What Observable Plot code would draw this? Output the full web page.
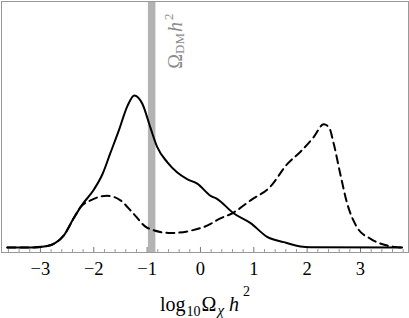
<!DOCTYPE html>
<html><head><meta charset="utf-8">
<script src="https://cdn.jsdelivr.net/npm/d3@7"></script>
<script src="https://cdn.jsdelivr.net/npm/@observablehq/plot@0.6"></script>
<style>body{margin:0;background:#fff;overflow:hidden}
svg text{font-family:"Liberation Serif","Times New Roman",serif !important;}</style>
</head><body><div id="chart"></div>
<script>
// Solid curve (relative density vs log10 Omega h^2)
const solidX = [-3.62,-3.19,-2.87,-2.72,-2.56,-2.38,-2.22,-2.00,-1.84,-1.69,-1.53,-1.37,-1.24,-1.09,-0.94,-0.81,-0.62,-0.44,-0.25,-0.06,0.19,0.31,0.62,0.94,1.25,1.56,1.875,2.06,3.78];
const solidY = [0.00,0.00,0.01,0.03,0.08,0.19,0.28,0.38,0.48,0.62,0.77,0.93,1.00,0.945,0.79,0.66,0.56,0.495,0.45,0.42,0.34,0.32,0.225,0.16,0.07,0.035,0.007,0.002,0.00];
// Dashed curve
const dashedX = [-3.62,-3.19,-2.87,-2.72,-2.56,-2.38,-2.25,-2.06,-1.75,-1.50,-1.25,-1.00,-0.56,-0.19,0.19,0.31,0.62,0.94,1.31,1.63,1.875,2.12,2.31,2.41,2.50,2.62,2.75,2.94,3.19,3.50,3.78];
const dashedY = [0.00,0.00,0.01,0.03,0.08,0.19,0.265,0.31,0.34,0.31,0.22,0.13,0.095,0.11,0.155,0.18,0.23,0.31,0.40,0.55,0.63,0.725,0.81,0.79,0.68,0.485,0.29,0.13,0.057,0.013,0.00];
// Observed dark matter band (log10 Omega_DM h^2)
const dmBand = [-0.915];
const majorTicks = [-3,-2,-1,0,1,2,3];
const minorTicks = d3.range(-18, 20).map(i => +(i * 0.2).toFixed(1)).filter(v => !majorTicks.includes(v));

const solid = solidX.map((x, i) => ({x, y: solidY[i]}));
const dashed = dashedX.map((x, i) => ({x, y: dashedY[i]}));

const serif = "Liberation Serif, Times New Roman, serif";
const plot = Plot.plot({
  width: 409,
  height: 318,
  marginLeft: 1,
  marginRight: 1,
  marginTop: 1,
  marginBottom: 66,
  style: {fontFamily: serif, fontSize: "18.5px", background: "#fff", color: "#000"},
  x: {domain: [-3.73, 3.9], ticks: majorTicks},
  y: {domain: [-0.033, 1.618], axis: null},
  marks: [
    Plot.ruleX(dmBand, {stroke: "#b3b3b3", strokeWidth: 7.5}),
    Plot.frame({stroke: "#999", strokeWidth: 1}),
    Plot.tickX(minorTicks, {stroke: "#999", insetTop: 248}),
    Plot.tickX(majorTicks, {stroke: "#777", insetTop: 246}),
    Plot.axisX(majorTicks, {tickSize: 0, tickPadding: 9, label: null, fontSize: 18.5, fontFamily: serif}),
    Plot.line(dashed, {x: "x", y: "y", stroke: "#000", strokeWidth: 2, strokeDasharray: "8,5", curve: "monotone-x"}),
    Plot.line(solid, {x: "x", y: "y", stroke: "#000", strokeWidth: 2, curve: "monotone-x"}),
    Plot.text(["log10Ωχh2"], {frameAnchor: "bottom", dx: 0, dy: 58, fontSize: 20, fontFamily: serif, fill: "#000", className: "xlabel"}),
    Plot.text(["ΩDMh2"], {x: dmBand, frameAnchor: "top", dx: 16, dy: 12, rotate: -90, textAnchor: "end", fontSize: 20, fontFamily: serif, fill: "#8c8c8c", className: "dmlabel"})
  ]
});
document.getElementById("chart").appendChild(plot);
d3.select(plot).selectAll("text").style("font-family", serif, "important");

function rich(sel, parts) {
  const t = d3.select(plot).select(sel + " text");
  t.text(null);
  parts.forEach(([s, opt]) => {
    const ts = t.append("tspan").text(s);
    if (opt) {
      if (opt.dy) ts.attr("dy", opt.dy);
      if (opt.size) ts.attr("font-size", opt.size);
      if (opt.italic) ts.attr("font-style", "italic");
      if (opt.dx) ts.attr("dx", opt.dx);
    }
  });
}
rich(".xlabel", [
  ["log", null],
  ["10", {dy: 5, size: 14, dx: 1}],
  ["Ω", {dy: -5, dx: 1}],
  ["χ", {dy: 4, size: 15, italic: true, dx: 1}],
  ["h", {dy: -4, italic: true, dx: 5}],
  ["2", {dy: -15, size: 14, dx: 4}]
]);
rich(".dmlabel", [
  ["Ω", null],
  ["DM", {dy: 2, size: 13}],
  ["h", {dy: -2, italic: true, dx: 1}],
  ["2", {dy: -9, size: 13, dx: 2}]
]);
</script>
</body></html>
